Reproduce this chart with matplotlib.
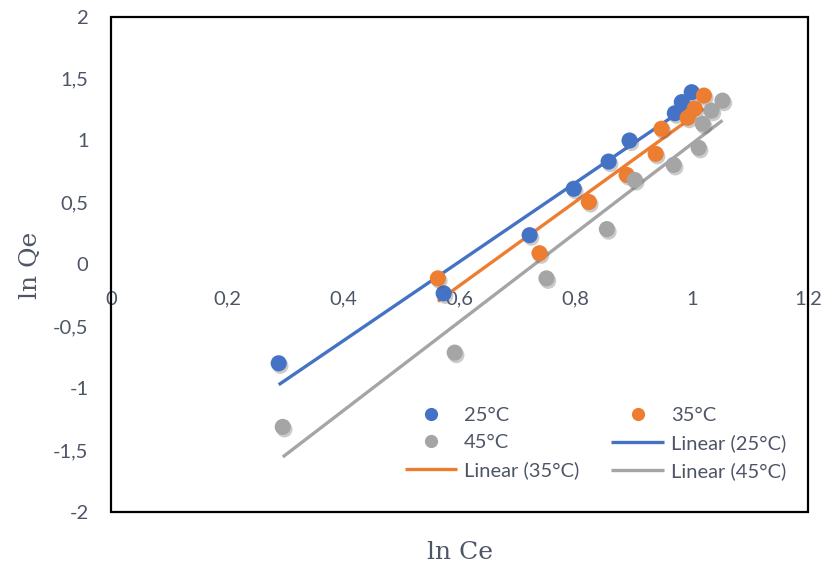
import numpy as np
import matplotlib
matplotlib.use('Agg')
import matplotlib.pyplot as plt
import matplotlib.patheffects as pe
from matplotlib.patches import Rectangle
from matplotlib.lines import Line2D
from matplotlib.ticker import FuncFormatter, MultipleLocator

# ── data ────────────────────────────────────────────────────
x_25 = [0.289, 0.573, 0.721, 0.797, 0.857, 0.893, 0.971, 0.983, 1.000]
y_25 = [-0.80, -0.235, 0.235, 0.61, 0.83, 1.00, 1.22, 1.31, 1.39]

x_35 = [0.563, 0.738, 0.823, 0.888, 0.938, 0.948, 0.993, 1.005, 1.021]
y_35 = [-0.114, 0.089, 0.503, 0.722, 0.892, 1.095, 1.184, 1.257, 1.363]

x_45 = [0.296, 0.592, 0.750, 0.854, 0.902, 0.969, 1.012, 1.019, 1.034, 1.053]
y_45 = [-1.314, -0.714, -0.114, 0.284, 0.681, 0.803, 0.941, 1.135, 1.241, 1.322]

labels = ['25°C', '35°C', '45°C']
colors = ['#4472C4', '#ED7D31', '#A5A5A5']

txt_color = '#4d5566'

fig = plt.figure(figsize=(8.21, 5.77), dpi=100)
ax = fig.add_axes([0.135, 0.113, 0.849, 0.858])

shadow = [pe.SimplePatchShadow(offset=(1.2, -1.8), shadow_rgbFace='#555555', alpha=0.3), pe.Normal()]

pts, fits = [], []
for xs, ys, lab, col in zip([x_25, x_35, x_45], [y_25, y_35, y_45], labels, colors):
    xs, ys = np.array(xs), np.array(ys)
    ax.scatter(xs, ys, s=135, color=col, edgecolors='none', zorder=3,
               path_effects=shadow)
    # flat marker for the legend (no shadow there)
    pts.append(Line2D([], [], ls='none', marker='o', markersize=9.5,
                      color=col, markeredgecolor='none', label=lab))
    # Excel-style linear trendline over the data range
    m, b = np.polyfit(xs, ys, 1)
    xl = np.array([xs.min(), xs.max()])
    l, = ax.plot(xl, m * xl + b, color=col, lw=2.4, zorder=2,
                 label=f'Linear ({lab})', solid_capstyle='butt')
    fits.append(l)

ax.set_xlim(0, 1.2)
ax.set_ylim(-2, 2)
ax.xaxis.set_major_locator(MultipleLocator(0.2))
ax.yaxis.set_major_locator(MultipleLocator(0.5))
fmt = FuncFormatter(lambda v, _: ('%g' % round(v, 2)).replace('.', ','))
ax.xaxis.set_major_formatter(fmt)
ax.yaxis.set_major_formatter(fmt)

# x axis crosses at y = 0, no visible line
for s in ['top', 'right', 'left']:
    ax.spines[s].set_visible(False)
ax.spines['bottom'].set_position(('data', 0))
ax.spines['bottom'].set_visible(False)
ax.add_patch(Rectangle((0, 0), 1, 1, transform=ax.transAxes, fill=False,
                       edgecolor='black', lw=1.6, clip_on=False, zorder=5))

ax.tick_params(axis='x', length=0, pad=19, labelsize=14.5, labelcolor=txt_color)
ax.tick_params(axis='y', length=0, pad=16, labelsize=14.5, labelcolor=txt_color)
for t in ax.get_xticklabels() + ax.get_yticklabels():
    t.set_fontfamily('Lato')

fig.text(0.037, 0.54, 'ln Qe', rotation=90, ha='center', va='center',
         fontsize=18, family='DejaVu Serif', color=txt_color)
fig.text(0.56, 0.043, 'ln Ce', ha='center', va='center',
         fontsize=18, family='DejaVu Serif', color=txt_color)

# row-major order as in the reference (matplotlib fills column-first)
handles = [pts[0], pts[2], fits[1], pts[1], fits[0], fits[2]]
leg = ax.legend(handles=handles, labels=[h.get_label() for h in handles],
                ncol=2, loc='upper left', bbox_to_anchor=(0.407, 0.232),
                frameon=False, prop={'family': 'Lato', 'size': 14.5},
                handlelength=2.6, handletextpad=0.35, columnspacing=1.6,
                labelspacing=0.5, borderpad=0)
for t in leg.get_texts():
    t.set_color(txt_color)

fig.savefig('out.png', dpi=100)
